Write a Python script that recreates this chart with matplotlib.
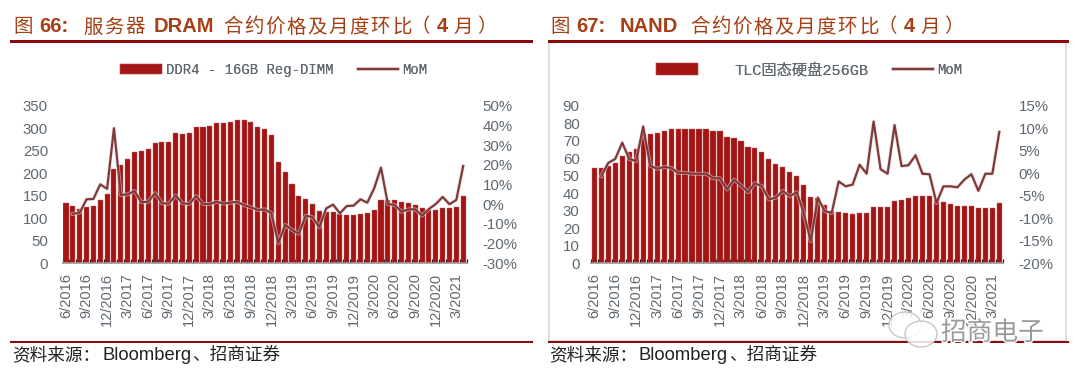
import numpy as np
import matplotlib
matplotlib.use("Agg")
import matplotlib.pyplot as plt
import matplotlib.patheffects as pe
from matplotlib.patches import Ellipse, Rectangle

W, H = 1080, 379

months = ["6/2016", "7/2016", "8/2016", "9/2016", "10/2016", "11/2016", "12/2016", "1/2017", "2/2017", "3/2017",
          "4/2017", "5/2017", "6/2017", "7/2017", "8/2017", "9/2017", "10/2017", "11/2017", "12/2017", "1/2018",
          "2/2018", "3/2018", "4/2018", "5/2018", "6/2018", "7/2018", "8/2018", "9/2018", "10/2018", "11/2018",
          "12/2018", "1/2019", "2/2019", "3/2019", "4/2019", "5/2019", "6/2019", "7/2019", "8/2019", "9/2019",
          "10/2019", "11/2019", "12/2019", "1/2020", "2/2020", "3/2020", "4/2020", "5/2020", "6/2020", "7/2020",
          "8/2020", "9/2020", "10/2020", "11/2020", "12/2020", "1/2021", "2/2021", "3/2021", "4/2021"]

ddr4_price = [133, 127, 121, 125, 127, 141, 153, 210, 219, 231, 247, 249, 253, 268, 270, 270, 289, 288, 290, 304,
              304, 306, 311, 311, 313, 318, 318, 314, 304, 298, 285, 226, 204, 176, 150, 143, 131, 116, 114, 114,
              110, 108, 107, 110, 111, 119, 141, 141, 141, 137, 133, 129, 122, 119, 119, 124, 124, 126, 150]
ddr4_mom = [None, -4.9, -4.3, 2.5, 2.7, 10.1, 7.8, 38.6, 4.7, 5, 6.7, 1, 1.3, 5.6, 0.5, 0.3, 4.5, 0.5, 0.1, 4.2,
            0.1, 0.1, 1.3, 0.3, 0.8, 1.2, -0.4, -1.6, -2.9, -2.6, -4.6, -19.8, -10.5, -13, -15, -5.8, -6.6, -11.7,
            -2.1, -0.2, -4.6, -0.9, -0.7, 2.5, 0.8, 8.1, 18.6, 0.1, -0.4, -3.8, -2.6, -2.6, -5.8, -2.4, 0.1, 3.7,
            0, 2.2, 19.4]

tlc_price = [54.6, 54.2, 55.7, 57.4, 61.2, 63.7, 65.2, 73.9, 73.7, 74.3, 75.8, 76.7, 76.7, 76.7, 76.7, 76.7, 76.7,
             75.8, 75.4, 72.2, 71.6, 69.7, 66.7, 65.8, 63.7, 59.7, 56.8, 54.8, 52.1, 49.8, 44.7, 38.1, 37.5, 33.2,
             30.1, 29.6, 29, 28.2, 28.6, 28.6, 32.2, 32.2, 32.2, 35.8, 36.2, 37.1, 38.7, 38.7, 38.7, 36, 35, 34.1,
             33, 32.6, 32.6, 31.6, 31.6, 31.6, 34.5]
tlc_mom = [None, -0.6, 2.3, 3.2, 6.8, 3.2, 2.7, 10.4, 1.7, 1, 1.4, 1.2, 0.1, 0.1, -0.1, -0.1, -0.1, -1.1, -1.1, -3.6,
           -1.4, -2.7, -4.2, -2.2, -2.9, -5.8, -5.4, -3.9, -5.1, -4.2, -8.9, -15.1, -5.4, -8.4, -8.8, -1.8, -2.9,
           -2.5, 1.9, -0.1, 11.5, 0.9, -0.1, 10.7, 1.6, 1.8, 4, -0.1, -0.2, -6.6, -2.9, -2.9, -3.1, -1.4, -0.2,
           -3.9, -0.1, -0.1, 9.2]

BAR = "#A31515"
LINE = "#7E3A3A"
RULE = "#8C0A0A"
TITLE = "#A63F14"
GRAY = "#5F6870"
SANS = "Liberation Sans"
CJK = "Noto Sans CJK SC"
MONO = ["Liberation Mono", CJK]


def px_axes(fig, x0, x1, y_top, y_bottom):
    return fig.add_axes([x0 / W, 1 - y_bottom / H, (x1 - x0) / W, (y_bottom - y_top) / H])


def px_text(fig, x, y, s, **kw):
    return fig.text(x / W, 1 - y / H, s, va="center", **kw)


def px_legend(fig, handle, x, handlelength, textpad, size):
    fig.add_artist(fig.legend(handles=[handle], loc="center left", bbox_to_anchor=(x / W, 1 - 70 / H),
                              frameon=False, handlelength=handlelength, handleheight=0.75,
                              handletextpad=textpad, borderpad=0, borderaxespad=0,
                              prop={"family": MONO, "size": size}, labelcolor=GRAY))


def panel(fig, x0, x1, price, mom, ylim, yticks, rlim, rticks, name, pad_l):
    ax = px_axes(fig, x0, x1, 105.8, 263.3)
    x = np.arange(len(price))
    bars = ax.bar(x, price, width=0.74, color=BAR, edgecolor="#C46A6A", linewidth=0.3, label=name)
    ax.set_axisbelow(True)
    ax.set_xlim(-0.5, len(price) - 0.5)
    ax.set_ylim(*ylim)
    ax.set_yticks(yticks)
    ax.set_xticks(x[::3])
    ax.set_xticklabels(months[::3], rotation=90, fontsize=10.5, color=GRAY, family=SANS)
    ax.set_xticks(np.arange(len(price) + 1) - 0.5, minor=True)
    ax.tick_params(axis="x", which="major", length=0, pad=7)
    ax.tick_params(axis="x", which="minor", direction="in", length=3, width=0.8, color="black")
    ax.tick_params(axis="y", length=0, pad=pad_l, labelsize=10.8, labelcolor=GRAY)
    for s in ["top", "left", "right"]:
        ax.spines[s].set_visible(False)
    ax.spines["bottom"].set_color("#9A9A9A")
    ax.spines["bottom"].set_linewidth(1.2)
    for t in ax.get_yticklabels():
        t.set_family(SANS)

    ax2 = ax.twinx()
    y = np.array([np.nan if v is None else v for v in mom], dtype=float)
    line, = ax2.plot(x, y, color=LINE, linewidth=1.6, label="MoM",
                     path_effects=[pe.Stroke(linewidth=2.8, foreground="#E9D5D5", alpha=0.6), pe.Normal()])
    ax2.set_ylim(*rlim)
    ax2.set_yticks(rticks)
    ax2.set_yticklabels([f"{v}%" for v in rticks], fontsize=10.8, color=GRAY, family=SANS)
    ax2.tick_params(axis="y", length=0, pad=11.5)
    for s in ax2.spines.values():
        s.set_visible(False)
    return bars, line


def fig_rule(fig, x0, x1, y, h, color=RULE):
    fig.add_artist(Rectangle((x0 / W, 1 - (y + h / 2) / H), (x1 - x0) / W, h / H,
                             transform=fig.transFigure, color=color, linewidth=0))


def spaced(fig, x, y, s, pitch, **kw):
    # the Chinese in the headings is set with wide letter spacing
    for i, ch in enumerate(s):
        px_text(fig, x + i * pitch, y, ch, **kw)


def heading(fig, x, num, word, word_x, cjk_before=""):
    y = 27
    title_kw = dict(color=TITLE, family=CJK, fontsize=14)
    bold_kw = dict(color=TITLE, family=SANS, fontsize=14.5, weight="bold")
    px_text(fig, x, y, "图", **title_kw)
    px_text(fig, x + 26, y, num + ":", **bold_kw)
    if cjk_before:
        spaced(fig, x + 70, y, cjk_before, 21.3, **title_kw)
    px_text(fig, word_x, y, word, **bold_kw)
    w0 = word_x + (69 if word == "DRAM" else 70)
    spaced(fig, w0, y, "合约价格及月度环比", 21.1, **title_kw)
    end = w0 + 9 * 21.1
    px_text(fig, end - 2, y, "（", **title_kw)
    px_text(fig, end + 24, y, "4", **bold_kw)
    px_text(fig, end + 41, y, "月", **title_kw)
    px_text(fig, end + 64, y, "）", **title_kw)


def source(fig, x):
    px_text(fig, x, 355, "资料来源：", color="#222222", family=CJK, fontsize=12.7)
    px_text(fig, x + 90, 355, "Bloomberg", color="#222222", family=SANS, fontsize=13.2)
    px_text(fig, x + 180, 355, "、招商证券", color="#222222", family=CJK, fontsize=12.7)


fig = plt.figure(figsize=(W / 100, H / 100), dpi=100)

# frame around the right chart
fig.add_artist(Rectangle((548.5 / W, 1 - 341 / H), 517 / W, 299 / H, transform=fig.transFigure,
                         fill=False, edgecolor="#D4D4D4", linewidth=1.1))

bars, line = panel(fig, 62.6, 466.6, ddr4_price, ddr4_mom, (0, 350), range(0, 351, 50),
                   (-30, 50), list(range(-30, 51, 10)), "DDR4 - 16GB Reg-DIMM", 10.5)
px_legend(fig, bars, 120, 3.0, 0.3, 10)
px_legend(fig, line, 358, 2.9, 0.3, 10)

bars, line = panel(fig, 590.8, 1002.8, tlc_price, tlc_mom, (0, 90), range(0, 91, 10),
                   (-20, 15), list(range(-20, 16, 5)), "TLC固态硬盘256GB", 8)
px_legend(fig, bars, 656, 2.75, 2.35, 11)
px_legend(fig, line, 893, 2.9, 0.3, 10)

fig_rule(fig, 10, 533, 41.5, 2.5)
fig_rule(fig, 10, 533, 342, 2)
fig_rule(fig, 548, 1069, 41.5, 2.5)
fig_rule(fig, 548, 1069, 342, 2)

heading(fig, 13, "66", "DRAM", 154, "服务器")
heading(fig, 550, "67", "NAND", 620)
source(fig, 12)
source(fig, 549)

# watermark
for cx, cy, rx, ry in [(905, 325, 16, 13), (921, 334, 16, 13)]:
    fig.add_artist(Ellipse((cx / W, 1 - cy / H), 2 * rx / W, 2 * ry / H, transform=fig.transFigure,
                           facecolor="white", edgecolor="#BDBDBD", linewidth=1, alpha=0.85))
px_text(fig, 941, 333, "招商电子", fontsize=18.5, color="#9A9A9A", family=CJK,
        path_effects=[pe.withStroke(linewidth=2, foreground="white")])

fig.savefig("out.png", dpi=100)
